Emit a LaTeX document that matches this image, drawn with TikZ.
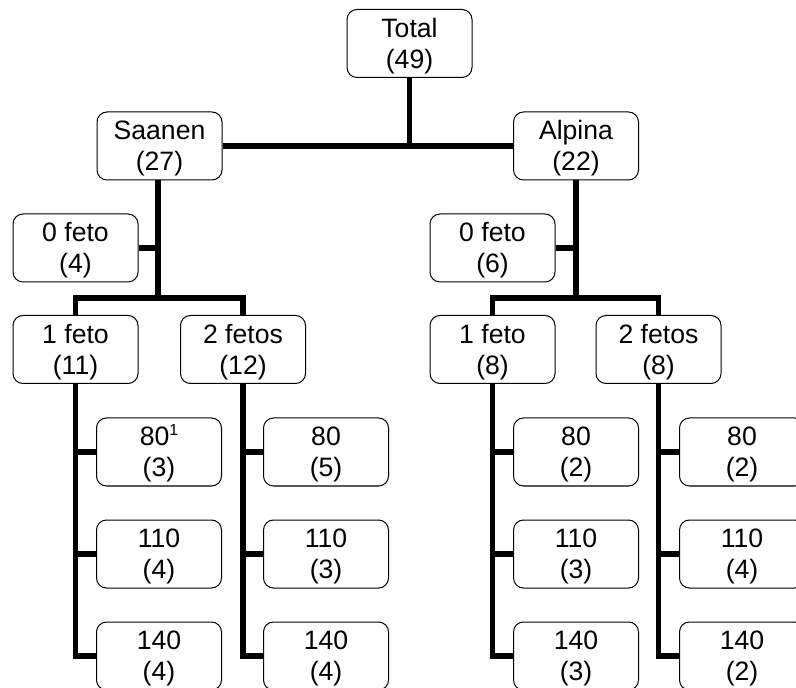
\documentclass[tikz,border=0pt]{standalone}
\usepackage{fontspec}
\setmainfont{Liberation Sans}
\newcommand{\twol}[2]{\raisebox{-1.5pt}[\height][\depth]{\begin{tabular}{@{}c@{}}#1\\#2\end{tabular}}}
\begin{document}
\begin{tikzpicture}[x=0.5pt,y=-0.5pt,
  bx/.style={draw, rounded corners=5pt, line width=0.5pt, minimum width=62.5pt, minimum height=34pt,
    inner sep=0pt, font=\fontsize{13.3pt}{15.5pt}\selectfont, fill=white},
  conn/.style={line width=2.6pt, line join=miter}]
\useasboundingbox (0,0) rectangle (796,688);
\clip (0,0) rectangle (796,688);
% nodes
\node[bx] (total) at (409.5,43.5) {\twol{Total}{(49)}};
\node[bx] (saanen) at (159.5,146) {\twol{Saanen}{(27)}};
\node[bx] (alpina) at (576,146) {\twol{Alpina}{(22)}};
\node[bx] (s0) at (75.5,248) {\twol{0 feto}{(4)}};
\node[bx] (s1) at (75.5,349.5) {\twol{1 feto}{(11)}};
\node[bx] (s2) at (243,349.5) {\twol{2 fetos}{(12)}};
\node[bx] (a0) at (492.5,248) {\twol{0 feto}{(6)}};
\node[bx] (a1) at (492.5,349.5) {\twol{1 feto}{(8)}};
\node[bx] (a2) at (658.5,349.5) {\twol{2 fetos}{(8)}};
\node[bx] (s1a) at (159,452) {\twol{80\raisebox{5pt}{\fontsize{8pt}{9pt}\selectfont 1}}{(3)}};
\node[bx] (s1b) at (159,554) {\twol{110}{(4)}};
\node[bx] (s1c) at (159,656) {\twol{140}{(4)}};
\node[bx] (s2a) at (326,452) {\twol{80}{(5)}};
\node[bx] (s2b) at (326,554) {\twol{110}{(3)}};
\node[bx] (s2c) at (326,656) {\twol{140}{(4)}};
\node[bx] (a1a) at (576,452) {\twol{80}{(2)}};
\node[bx] (a1b) at (576,554) {\twol{110}{(3)}};
\node[bx] (a1c) at (576,656) {\twol{140}{(3)}};
\node[bx] (a2a) at (742,452) {\twol{80}{(2)}};
\node[bx] (a2b) at (742,554) {\twol{110}{(4)}};
\node[bx] (a2c) at (742,656) {\twol{140}{(2)}};
% coordinates for bars
\coordinate (sbar) at (158,298);
\coordinate (abar) at (576,298);
% connectors
\draw[conn] (saanen.east) -- (alpina.west);
\draw[conn] (total.south) -- (total.south |- saanen.east);
\draw[conn] (saanen.south -| sbar) -- (sbar);
\draw[conn] (s0.east) -- (s0.east -| sbar);
\draw[conn] (s1.north) |- (sbar) -| (s2.north);
\draw[conn] (alpina.south) -- (abar);
\draw[conn] (a0.east) -- (a0.east -| abar);
\draw[conn] (a1.north) |- (abar) -| (a2.north);
% left groups
\draw[conn] (s1.south) |- (s1c.west);
\draw[conn] (s1a.west) -- (s1a.west -| s1.south);
\draw[conn] (s1b.west) -- (s1b.west -| s1.south);
\draw[conn] (s2.south) |- (s2c.west);
\draw[conn] (s2a.west) -- (s2a.west -| s2.south);
\draw[conn] (s2b.west) -- (s2b.west -| s2.south);
\draw[conn] (a1.south) |- (a1c.west);
\draw[conn] (a1a.west) -- (a1a.west -| a1.south);
\draw[conn] (a1b.west) -- (a1b.west -| a1.south);
\draw[conn] (a2.south) |- (a2c.west);
\draw[conn] (a2a.west) -- (a2a.west -| a2.south);
\draw[conn] (a2b.west) -- (a2b.west -| a2.south);
\end{tikzpicture}
\end{document}
